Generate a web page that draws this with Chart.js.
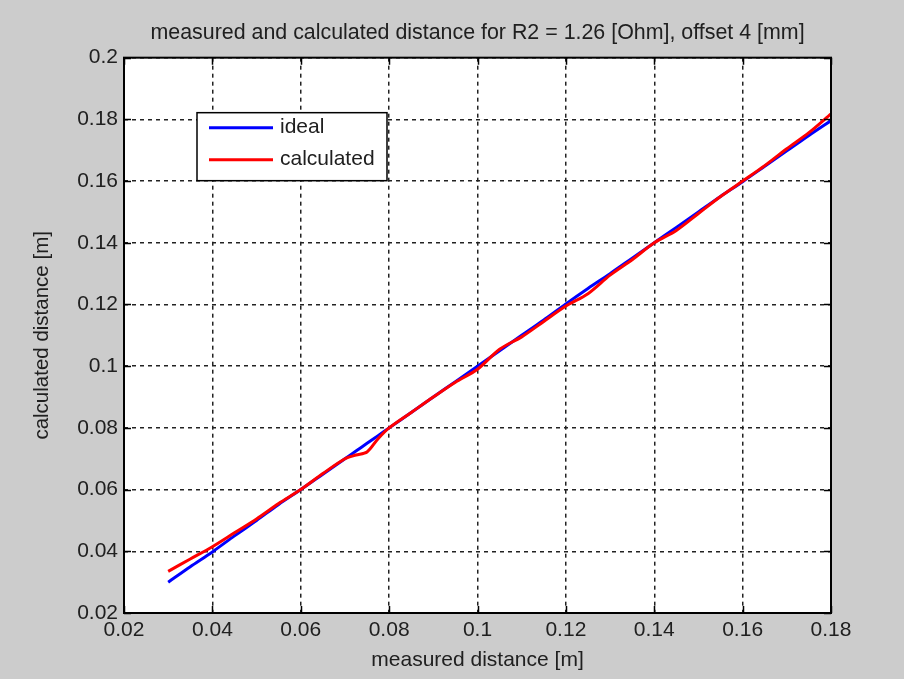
<!DOCTYPE html>
<html>
<head>
<meta charset="utf-8">
<title>measured and calculated distance</title>
<script src="https://cdn.jsdelivr.net/npm/chart.js@4"></script>
<style>
  html, body { margin: 0; padding: 0; background: #cccccc; }
  #wrap { width: 904px; height: 679px; }
</style>
</head>
<body>
<div id="wrap"><canvas id="distanceChart" width="904" height="679"></canvas></div>
<script>
// Data
const measured = [0.03, 0.035, 0.04, 0.045, 0.05, 0.055, 0.06, 0.065, 0.07, 0.0725, 0.075, 0.0775, 0.08, 0.085, 0.09, 0.095, 0.1, 0.105, 0.11, 0.115, 0.12, 0.125, 0.13, 0.135, 0.14, 0.145, 0.15, 0.155, 0.16, 0.165, 0.17, 0.175, 0.18];
const ideal = [0.0300, 0.0350, 0.0398, 0.0450, 0.0500, 0.0552, 0.0600, 0.0650, 0.0700, 0.0725, 0.0750, 0.0775, 0.0800, 0.0850, 0.0900, 0.0950, 0.1000, 0.1050, 0.1100, 0.1150, 0.1202, 0.1252, 0.1300, 0.1350, 0.1400, 0.1450, 0.1500, 0.1550, 0.1598, 0.1648, 0.1698, 0.1748, 0.1796];
const calculated = [0.0335, 0.0375, 0.0415, 0.0460, 0.0505, 0.0555, 0.0600, 0.0652, 0.0700, 0.0712, 0.0722, 0.0765, 0.0800, 0.0850, 0.0900, 0.0948, 0.0990, 0.1055, 0.1095, 0.1145, 0.1195, 0.1235, 0.1295, 0.1345, 0.1400, 0.1440, 0.1495, 0.1550, 0.1600, 0.1650, 0.1705, 0.1757, 0.1818];
const xTicks = [0.02, 0.04, 0.06, 0.08, 0.1, 0.12, 0.14, 0.16, 0.18];
const yTicks = [0.02, 0.04, 0.06, 0.08, 0.1, 0.12, 0.14, 0.16, 0.18, 0.2];

const textColor = "#202020";
const fontFamily = "'Liberation Sans', Arial, sans-serif";

function toPoints(ys) {
    return measured.map((x, i) => ({ x: x, y: ys[i] }));
}

function fmt(v) {
    return Number(v.toFixed(2)).toString();
}

// White plot area, box, inward ticks and the legend (matlab look)
const matlabAxes = {
    id: "matlabAxes",
    beforeDraw(chart) {
        const { ctx, chartArea: a } = chart;
        ctx.save();
        ctx.fillStyle = "#cccccc";
        ctx.fillRect(0, 0, chart.width, chart.height);
        ctx.fillStyle = "#ffffff";
        ctx.fillRect(a.left, a.top, a.right - a.left, a.bottom - a.top);
        ctx.restore();
    },
    afterDraw(chart) {
        const { ctx, chartArea: a, scales } = chart;
        const tickLen = 7;
        ctx.save();
        ctx.strokeStyle = "#000000";
        ctx.lineWidth = 1.5;
        ctx.beginPath();
        xTicks.forEach(v => {
            const px = Math.round(scales.x.getPixelForValue(v)) + 0.5;
            ctx.moveTo(px, a.bottom); ctx.lineTo(px, a.bottom - tickLen);
            ctx.moveTo(px, a.top); ctx.lineTo(px, a.top + tickLen);
        });
        yTicks.forEach(v => {
            const py = Math.round(scales.y.getPixelForValue(v)) + 0.5;
            ctx.moveTo(a.left, py); ctx.lineTo(a.left + tickLen, py);
            ctx.moveTo(a.right, py); ctx.lineTo(a.right - tickLen, py);
        });
        ctx.stroke();
        ctx.lineWidth = 2;
        ctx.strokeRect(a.left, a.top, a.right - a.left, a.bottom - a.top);

        // legend box
        const lx = a.left + 73, ly = a.top + 55, lw = 190, lh = 68;
        ctx.fillStyle = "#ffffff";
        ctx.fillRect(lx, ly, lw, lh);
        ctx.lineWidth = 1.5;
        ctx.strokeRect(lx, ly, lw, lh);
        const items = [chart.data.datasets[1], chart.data.datasets[0]];
        ctx.font = "21px " + fontFamily;
        ctx.textBaseline = "middle";
        items.forEach((ds, i) => {
            const yy = ly + 15 + i * 32;
            ctx.strokeStyle = ds.borderColor;
            ctx.lineWidth = 3;
            ctx.beginPath();
            ctx.moveTo(lx + 12, yy);
            ctx.lineTo(lx + 76, yy);
            ctx.stroke();
            ctx.fillStyle = textColor;
            ctx.fillText(ds.label, lx + 83, yy);
        });
        ctx.restore();
    }
};

document.addEventListener("DOMContentLoaded", function () {
    const ctx = document.getElementById("distanceChart").getContext("2d");

    const distanceChart = new Chart(ctx, {
        type: "line",
        data: {
            datasets: [{
                label: "calculated",
                data: toPoints(calculated),
                borderColor: "#ff0000",
                borderWidth: 3,
                pointRadius: 0,
                tension: 0.3,
                order: 0 // red on top
            }, {
                label: "ideal",
                data: toPoints(ideal),
                borderColor: "#0000ff",
                borderWidth: 3,
                pointRadius: 0,
                tension: 0.3,
                order: 1
            }]
        },
        options: {
            responsive: false,
            animation: false,
            layout: {
                padding: { left: 0, top: 0, right: 73, bottom: 0 }
            },
            scales: {
                x: {
                    type: "linear",
                    min: 0.02,
                    max: 0.18,
                    afterBuildTicks: s => { s.ticks = xTicks.map(v => ({ value: v })); },
                    afterFit: s => { s.height = 66; },
                    grid: {
                        color: "#222222",
                        lineWidth: 1.5,
                        drawTicks: false
                    },
                    border: { display: false, dash: [4, 4] },
                    ticks: {
                        padding: 5,
                        color: textColor,
                        font: { family: fontFamily, size: 21 },
                        maxRotation: 0,
                        callback: v => fmt(v)
                    },
                    title: {
                        display: true,
                        text: "measured distance [m]",
                        color: textColor,
                        font: { family: fontFamily, size: 21 },
                        padding: { top: 0, bottom: 6 }
                    }
                },
                y: {
                    type: "linear",
                    min: 0.02,
                    max: 0.2,
                    afterBuildTicks: s => { s.ticks = yTicks.map(v => ({ value: v })); },
                    afterFit: s => { s.width = 124; },
                    grid: {
                        color: "#222222",
                        lineWidth: 1.5,
                        drawTicks: false
                    },
                    border: { display: false, dash: [4, 4] },
                    ticks: {
                        padding: 6,
                        color: textColor,
                        font: { family: fontFamily, size: 21 },
                        callback: v => fmt(v)
                    },
                    title: {
                        display: true,
                        text: "calculated distance [m]",
                        color: textColor,
                        font: { family: fontFamily, size: 20.5 },
                        padding: { top: 30, bottom: 0 }
                    }
                }
            },
            plugins: {
                legend: { display: false },
                tooltip: { enabled: false },
                title: {
                    display: true,
                    fullSize: false,
                    text: "measured and calculated distance for R2 = 1.26 [Ohm], offset 4 [mm]",
                    color: textColor,
                    font: { family: fontFamily, size: 21.4, weight: "normal" },
                    padding: { top: 20, bottom: 12 }
                }
            }
        },
        plugins: [matlabAxes]
    });
});
</script>
</body>
</html>
